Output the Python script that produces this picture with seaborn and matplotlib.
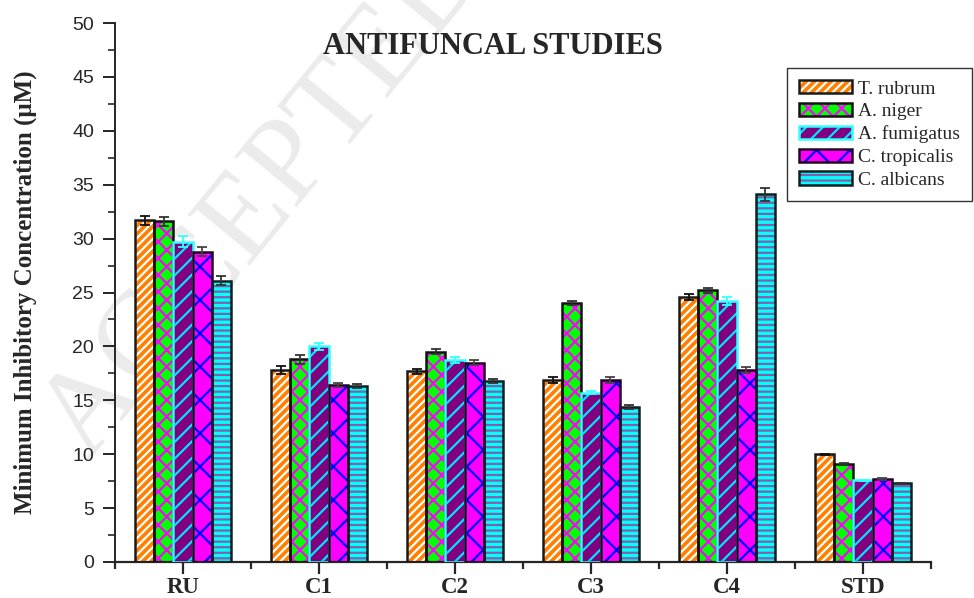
import matplotlib
matplotlib.use("Agg")
import matplotlib.pyplot as plt
from matplotlib.patches import Rectangle, Patch
from matplotlib.ticker import MultipleLocator, FixedLocator
import seaborn as sns
import pandas as pd
import numpy as np

# ---- data -------------------------------------------------------------
compounds = ["RU", "C1", "C2", "C3", "C4", "STD"]
species = ["T. rubrum", "A. niger", "A. fumigatus", "C. tropicalis", "C. albicans"]

t_rubrum     = [31.7, 17.8, 17.7, 16.9, 24.6, 10.0]
a_niger      = [31.6, 18.8, 19.5, 24.0, 25.2, 9.1]
a_fumigatus  = [29.7, 20.0, 18.7, 15.7, 24.2, 7.6]
c_tropicalis = [28.8, 16.4, 18.5, 16.9, 17.8, 7.7]
c_albicans   = [26.1, 16.3, 16.8, 14.4, 34.1, 7.3]

t_rubrum_err     = [0.43, 0.40, 0.23, 0.30, 0.25, 0.05]
a_niger_err      = [0.43, 0.43, 0.25, 0.20, 0.25, 0.05]
a_fumigatus_err  = [0.50, 0.30, 0.28, 0.15, 0.35, 0.05]
c_tropicalis_err = [0.40, 0.18, 0.25, 0.25, 0.25, 0.05]
c_albicans_err   = [0.43, 0.18, 0.18, 0.18, 0.57, 0.05]

yticks = [0, 5, 10, 15, 20, 25, 30, 35, 40, 45, 50]

values = [t_rubrum, a_niger, a_fumigatus, c_tropicalis, c_albicans]
errors = [t_rubrum_err, a_niger_err, a_fumigatus_err, c_tropicalis_err, c_albicans_err]

df = pd.DataFrame({
    "compound": np.repeat([compounds], len(species), axis=0).ravel(),
    "species": np.repeat(species, len(compounds)),
    "mic": np.concatenate(values),
})

# ---- styling per series ----------------------------------------------
face   = ["#ff8000", "#00ff00", "#800080", "#ff00ff", "#00ffff"]
hatchc = ["#ffffff", "#ff00ff", "#00e5ff", "#0000ff", "#8060a8"]
hatch  = ["////", "xx", "//", "x", "---"]
edge   = ["#1a1a1a", "#111111", "#33ffff", "#220022", "#0d2020"]
ecol   = ["#111111", "#333333", "#33ffff", "#444444", "#333333"]

sns.set_style("ticks")
plt.rcParams["font.family"] = ["Liberation Sans", "DejaVu Sans"]
plt.rcParams["hatch.linewidth"] = 1.6
serif = ["Liberation Serif", "DejaVu Serif"]

fig = plt.figure(figsize=(9.74, 5.98), dpi=100)
ax = fig.add_axes([115 / 974, 36 / 598, (931 - 115) / 974, (562 - 23) / 598])

# faint watermark behind the bars
ax.text(88 / 974, 1 - 462 / 598, "ACCEPTED MANUSCRIPT", transform=fig.transFigure,
        rotation=50.6, rotation_mode="anchor", ha="left", va="baseline",
        fontsize=88, family=serif, color="#ebebeb", zorder=0.5, clip_on=False)

sns.barplot(data=df, x="compound", y="mic", hue="species", order=compounds,
            hue_order=species, palette=face, saturation=1, width=0.7,
            errorbar=None, legend=False, ax=ax, zorder=2)

bar_containers = list(ax.containers)
for i, cont in enumerate(bar_containers):
    xs, hs = [], []
    for p in cont.patches:
        p.set_hatch(hatch[i])
        p.set_edgecolor(hatchc[i])
        p.set_linewidth(0)
        ax.add_patch(Rectangle((p.get_x(), p.get_y()), p.get_width(), p.get_height(),
                               fill=False, edgecolor=edge[i], lw=1.8, zorder=3))
        xs.append(p.get_x() + p.get_width() / 2)
        hs.append(p.get_height())
    ax.errorbar(xs, hs, yerr=errors[i], fmt="none", ecolor=ecol[i],
                elinewidth=1.3, capsize=3.5, capthick=1.3, zorder=4)

# ---- axes --------------------------------------------------------------
ax.set_xlim(-0.5, len(compounds) - 0.5)
ax.set_ylim(0, 50)
ax.set_yticks(yticks)
ax.yaxis.set_minor_locator(MultipleLocator(2.5))
ax.xaxis.set_minor_locator(FixedLocator(np.arange(-0.5, len(compounds), 1.0)))
ax.tick_params(axis="y", which="major", length=8.5, width=1.4, labelsize=14,
               direction="out", pad=6.5)
ax.tick_params(axis="y", which="minor", length=5, width=1.2, direction="out")
ax.tick_params(axis="x", which="major", length=8.5, width=1.6, direction="out", pad=2)
ax.tick_params(axis="x", which="minor", length=5, width=1.6, direction="out")
for lab in ax.get_xticklabels():
    lab.set_fontfamily(serif)
    lab.set_fontweight("bold")
    lab.set_fontsize(16.5)
for s in ["top", "right"]:
    ax.spines[s].set_visible(False)
ax.spines["left"].set_linewidth(1.4)
ax.spines["bottom"].set_linewidth(1.6)
ax.set_xlabel("")
ax.set_ylabel("Minimum Inhibitory Concentration (\u03bcM)", family=serif,
              fontweight="bold", fontsize=18)
ax.yaxis.set_label_coords((37 - 115) / 816, 0.5)

fig.text(493 / 974, 1 - 54 / 598, "ANTIFUNCAL STUDIES", ha="center", va="baseline",
         family=serif, fontweight="bold", fontsize=22)

# ---- legend ------------------------------------------------------------
handles = [(Patch(facecolor=face[i], hatch=hatch[i], edgecolor=hatchc[i], lw=0),
            Patch(fill=False, edgecolor=edge[i], lw=1.8)) for i in range(len(species))]
leg = ax.legend(handles, species, loc="upper right",
                bbox_to_anchor=((972 - 115) / 816, (562 - 68) / 539), borderaxespad=0,
                frameon=True, fancybox=False, edgecolor="black",
                prop={"family": serif, "size": 14}, handlelength=2.73, handleheight=0.68,
                labelspacing=0.27, handletextpad=0.32, borderpad=0.62)
leg.get_frame().set_linewidth(1.0)

fig.savefig("out.png", dpi=100)
